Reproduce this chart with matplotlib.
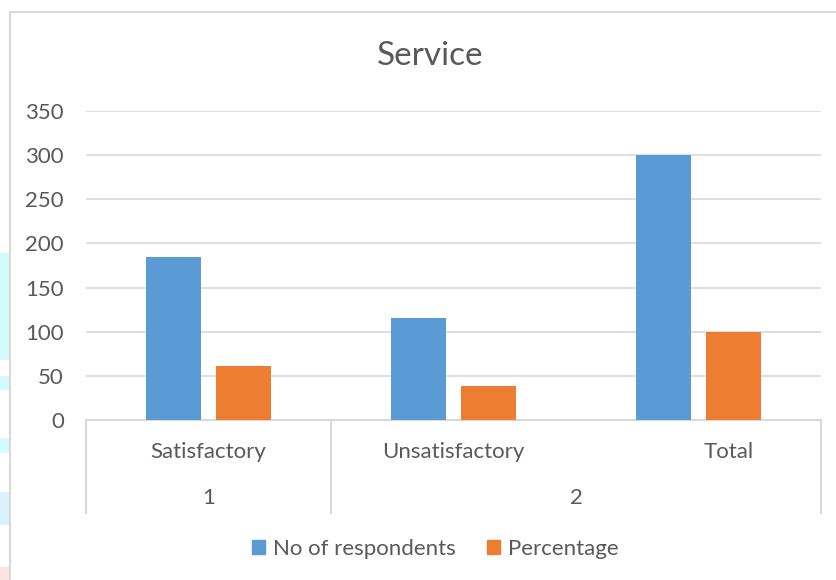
import matplotlib
matplotlib.use("Agg")
import matplotlib.pyplot as plt
from matplotlib.lines import Line2D
from matplotlib.patches import Rectangle, Patch
import numpy as np

plt.rcParams['font.family'] = ['Lato', 'DejaVu Sans']

title = "Service"
categories = ["Satisfactory", "Unsatisfactory", "Total"]
groups = ["1", "2"]
group_spans = [(0, 0), (1, 2)]
series_names = ["No of respondents", "Percentage"]
respondents = [185, 115, 300]
percentage = [61.67, 38.33, 100]
yticks = [0, 50, 100, 150, 200, 250, 300, 350]

BLUE = "#5b9bd5"
ORANGE = "#ed7d31"
TXT = "#595959"
GRID = "#d9d9d9"

W, H = 837, 580
fig = plt.figure(figsize=(W / 100, H / 100), dpi=100)

def fx(px):
    return px / W

def fy(py):
    return 1 - py / H

# chart border (left and top edges visible)
fig.add_artist(Line2D([fx(10), fx(837)], [fy(12), fy(12)], color=GRID, lw=1.5))
fig.add_artist(Line2D([fx(10), fx(10)], [fy(12), fy(580)], color=GRID, lw=1.5))

# small colored artifacts at left edge
for (y0, y1, c) in [(253, 360, "#d3fbfc"), (376, 390, "#d3fbfc"), (438, 453, "#d3fbfc"),
                    (492, 525, "#d9f2fb"), (567, 580, "#fde3e3")]:
    fig.add_artist(Rectangle((0, fy(y1)), fx(9), fy(y0) - fy(y1), color=c, lw=0))

ax = fig.add_axes([fx(86), fy(420), fx(821) - fx(86), fy(111) - fy(420)])
x = np.arange(len(categories))
bw = 0.224
off = 0.143
ax.bar(x - off, respondents, width=bw, color=BLUE, zorder=3)
ax.bar(x + off, percentage, width=bw, color=ORANGE, zorder=3)

ax.set_xlim(-0.5, len(categories) - 0.5)
ax.set_ylim(0, 350)
ax.set_yticks(yticks)
ax.set_yticklabels([str(t) for t in yticks], fontsize=16, color=TXT)
ax.tick_params(axis='y', length=0, pad=16)
ax.set_xticks([])
ax.grid(axis='y', color=GRID, lw=1.2, zorder=0)
for s in ['top', 'right', 'left']:
    ax.spines[s].set_visible(False)
ax.spines['bottom'].set_color(GRID)
ax.spines['bottom'].set_linewidth(1.5)

# multi-level category axis
depth = (513 - 420) / (420 - 111)
n = len(categories)
seps = [0.0]
for (a, b) in group_spans:
    seps.append((b + 1) / n)
for s in seps:
    ax.plot([s, s], [0, -depth], transform=ax.transAxes, color=GRID, lw=1.5, clip_on=False)

label_shift = [0, 0, 30]  # pixel shift of category labels as laid out in the reference
for i, c in enumerate(categories):
    fig.text(fx(86) + (fx(821) - fx(86)) * (i + 0.5) / n + fx(label_shift[i]), fy(452), c,
             ha='center', va='center', fontsize=16, color=TXT)
for g, (a, b) in zip(groups, group_spans):
    fig.text(fx(86) + (fx(821) - fx(86)) * ((a + b + 1) / 2) / n, fy(498), g,
             ha='center', va='center', fontsize=16, color=TXT)

fig.text(fx(430), fy(56), title, ha='center', va='center', fontsize=24, color=TXT)

handles = [Patch(color=BLUE, label=series_names[0]), Patch(color=ORANGE, label=series_names[1])]
leg = fig.legend(handles=handles, loc='center', bbox_to_anchor=(fx(435), fy(549)), ncol=2,
                 frameon=False, fontsize=16, handlelength=0.6, handleheight=0.6,
                 handletextpad=0.35, columnspacing=1.4)
for t in leg.get_texts():
    t.set_color(TXT)

fig.savefig("out.png", dpi=100)
